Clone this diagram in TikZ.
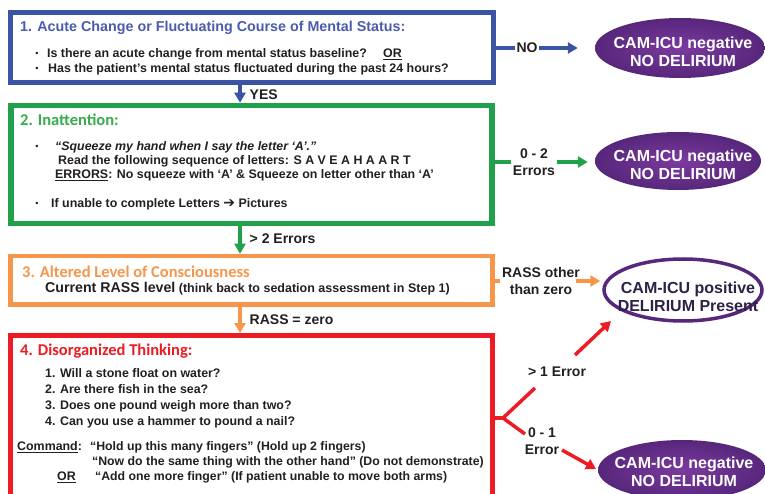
\documentclass[tikz,border=0pt]{standalone}
\usepackage{fontspec}
\setmainfont{Liberation Sans}
\newfontfamily\calfont{Carlito}
\newfontfamily\djv{DejaVu Sans}
\usetikzlibrary{arrows.meta,shapes.geometric}
\newcommand\fsz[1]{\fontsize{#1}{#1}\selectfont}
\definecolor{cblue}{HTML}{3B53A4}
\definecolor{ctblue}{HTML}{4B5BAD}
\definecolor{cgreen}{HTML}{21A14B}
\definecolor{ctgreen}{HTML}{3AAA4F}
\definecolor{corange}{HTML}{F7964A}
\definecolor{cred}{HTML}{ED1C24}
\definecolor{cpurL}{HTML}{7B3A9E}
\definecolor{cpurD}{HTML}{57277C}
\definecolor{cpurT}{HTML}{2D2145}
\definecolor{cdark}{HTML}{231F20}
\begin{document}
\begin{tikzpicture}[x=1pt,y=-1pt,
  box/.style={draw, rectangle, inner sep=0pt, fill=white},
  txt/.style={anchor=west, inner sep=0pt, text=cdark, font=\bfseries\fsz{12.4}},
  bul/.style={anchor=center, inner sep=0pt, text=cdark, font=\fsz{9}},
  ttl/.style={anchor=west, inner sep=0pt, font=\calfont\bfseries\fsz{16.5}},
  lbl/.style={inner sep=1.5pt, text=cdark, font=\bfseries\fontsize{14}{17.5}\selectfont, align=center},
  ell/.style={ellipse, inner sep=0pt, inner color=cpurL, outer color=cpurD},
  etxt/.style={inner sep=0pt, font=\bfseries\fontsize{16}{18}\selectfont, align=center, text=white},
  arr/.style={-{Triangle[length=10pt,width=11pt]}, line width=3.5pt},
  lnk/.style={line width=3.5pt},
]
\useasboundingbox (0,0) rectangle (765,494);
\clip (0,0) rectangle (765,494);

% boxes
\node[box, draw=cblue, line width=5pt, minimum width=483.5pt, minimum height=70.5pt] (b1) at (251.75,47.75) {};
\node[box, draw=cgreen, line width=5.5pt, minimum width=481pt, minimum height=118pt] (b2) at (251.5,164.5) {};
\node[box, draw=corange, line width=4.5pt, minimum width=482pt, minimum height=48.5pt] (b3) at (251.5,280.25) {};
\node[box, draw=cred, line width=5pt, minimum width=482pt, minimum height=184.5pt] (b4) at (251,427.75) {};

% box 1 text
\node[anchor=west, inner sep=0pt, text=ctblue, font=\bfseries\fsz{14.3}] (t1) at (20,28) {1. Acute Change or Fluctuating Course of Mental Status:};
\node[bul] (b1a) at (37,54) {\textbullet};
\node[txt] (t1a) at (47,54) {Is there an acute change from mental status baseline?};
\node[txt] (t1or) at (383,54) {\underline{OR}};
\node[bul] (b1b) at (37,69) {\textbullet};
\node[txt] (t1b) at (48,69) {Has the patient's mental status fluctuated during the past 24 hours?};

% box 2 text
\node[ttl, text=ctgreen] (t2) at (20,120) {2. Inattention:};
\node[bul] (b2a) at (37,147) {\textbullet};
\node[txt] (t2a) at (55,147) {\textit{“Squeeze my hand when I say the letter ‘A’.”}};
\node[txt] (t2b) at (58,161) {Read the following sequence of letters: S A V E A H A A R T};
\node[txt] (t2c) at (55,175) {\underline{ERRORS}: No squeeze with ‘A’ \& Squeeze on letter other than ‘A’};
\node[bul] (b2b) at (37,204) {\textbullet};
\node[txt] (t2d) at (51,204) {If unable to complete Letters {\djv\fsz{14}➔} Pictures};

% box 3 text
\node[ttl, text=corange] (t3) at (22,272) {3. Altered Level of Consciousness};
\node[txt] (t3a) at (45,289) {{\fsz{14.2}Current RASS level} {\fsz{12.5}(think back to sedation assessment in Step 1)}};

% box 4 text
\node[ttl, text=cred] (t4) at (20,351) {4. Disorganized Thinking:};
\node[txt] (t4a) at (45,373) {1. Will a stone float on water?};
\node[txt] (t4b) at (45,389) {2. Are there fish in the sea?};
\node[txt] (t4c) at (45,406) {3. Does one pound weigh more than two?};
\node[txt] (t4d) at (45,422) {4. Can you use a hammer to pound a nail?};
\node[txt] (t4e) at (17,447) {\underline{Command}:};
\node[txt, font=\bfseries\fsz{12.3}] (t4f) at (90,447) {“Hold up this many fingers” (Hold up 2 fingers)};
\node[txt, font=\bfseries\fsz{12.3}] (t4g) at (92,462) {“Now do the same thing with the other hand” (Do not demonstrate)};
\node[txt] (t4h) at (57,477) {\underline{OR}};
\node[txt, font=\bfseries\fsz{12.3}] (t4i) at (95,477) {“Add one more finger” (If patient unable to move both arms)};

% ellipses
\node[ell, minimum width=170pt, minimum height=60pt] (e1) at (680,48) {};
\node[etxt] (e1t) at (683,52) {CAM-ICU negative\\NO DELIRIUM};
\node[ell, minimum width=166pt, minimum height=58pt] (e2) at (678,161) {};
\node[etxt] (e2t) at (683,165) {CAM-ICU negative\\NO DELIRIUM};
\node[ellipse, draw=cpurD, line width=3.5pt, fill=white, minimum width=158pt, minimum height=62pt, inner sep=0pt] (e3) at (683,290) {};
\node[etxt, text=cpurT] (e3t) at (688,297) {CAM-ICU positive\\DELIRIUM Present};
\node[ell, minimum width=168pt, minimum height=60pt] (e4) at (682,470) {};
\node[etxt] (e4t) at (684,472) {CAM-ICU negative\\NO DELIRIUM};

% vertical arrows
\coordinate (cx) at (240,0);
\draw[arr, cblue] (b1.south -| cx) -- (b2.north -| cx);
\node[lbl, anchor=west] (yes) at (248,95) {YES};
\draw[arr, cgreen] (b2.south -| cx) -- (b3.north -| cx);
\node[lbl, anchor=west] (gt2) at (248,239) {> 2 Errors};
\draw[arr, corange] (b3.south -| cx) -- (b4.north -| cx);
\node[lbl, anchor=west] (rz) at (248,320) {RASS = zero};

% right-hand exits
\node[lbl] (no) at (527,48) {NO};
\draw[lnk, cblue] (b1.east |- no.west) -- (no.west);
\draw[arr, cblue, shorten >=17pt] (no.east) -- (e1.west);

\node[lbl] (e02) at (534,162) {0 - 2\\Errors};
\draw[lnk, cgreen] (b2.east |- e02.west) -- (e02.west);
\draw[arr, cgreen, shorten >=7pt] (e02.east) -- (e2.west |- e02.east);

\node[lbl] (rass) at (541,281) {RASS other\\than zero};
\draw[lnk, corange] (b3.east |- rass.west) -- (rass.west);
\draw[arr, corange, shorten >=2pt, shorten <=-6pt] (rass.east) -- (e3.west |- rass.east);

\coordinate (fork) at (503,418);
\coordinate (r1a) at (535,388);
\coordinate (r2a) at (525,434);
\draw[lnk, cred, line join=round] (b4.east |- fork) -- (fork);
\draw[lnk, cred, line join=round] (r1a) -- (fork) -- (r2a);
\node[lbl] (gt1) at (557,372) {> 1 Error};
\node[lbl] (e01) at (542,441) {0 - 1\\Error};
\coordinate (r1b) at (575,355);
\coordinate (r1c) at (611,321);
\coordinate (r2b) at (562,450);
\draw[arr, cred] (r1b) -- (r1c);
\draw[arr, cred, shorten >=2pt] (r2b) -- (e4.west);
\end{tikzpicture}
\end{document}
